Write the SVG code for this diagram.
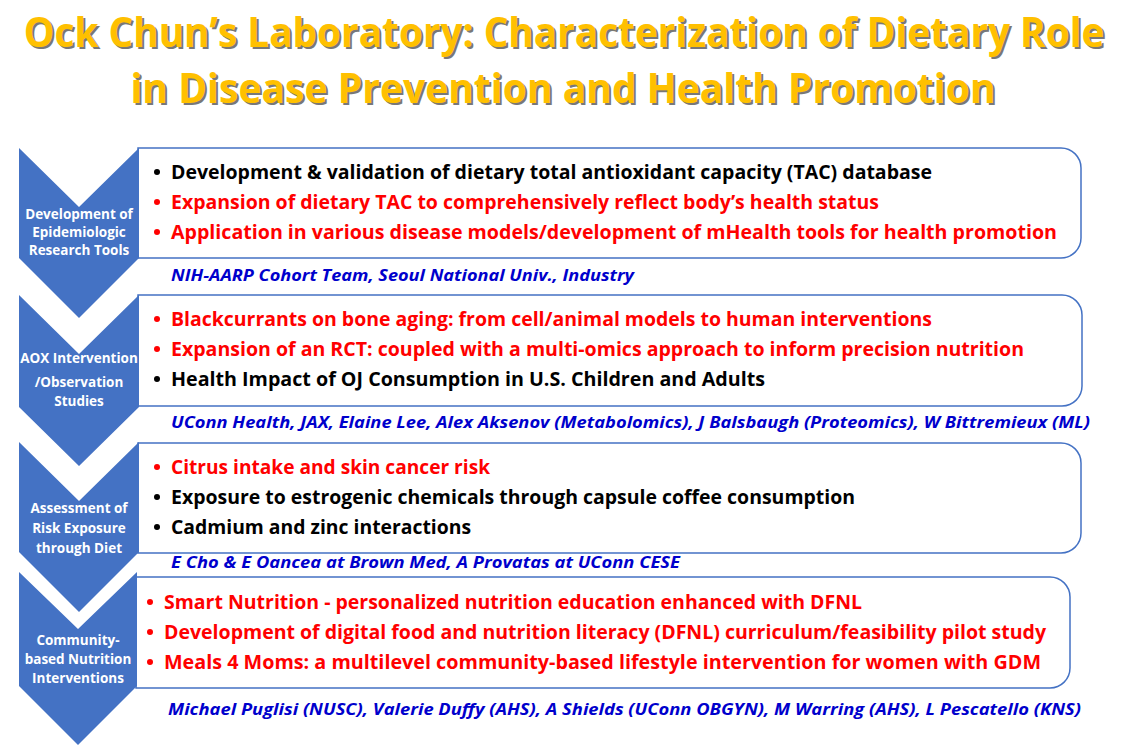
<svg xmlns="http://www.w3.org/2000/svg" width="1129" height="752" viewBox="0 0 1129 752">
<style>
.title{font-family:"Open Sans","Liberation Sans",sans-serif;font-weight:700;font-size:41px;fill:#FFC000;text-anchor:middle}
.shadow{font-family:"Open Sans","Liberation Sans",sans-serif;font-weight:700;font-size:41px;fill:#404040;opacity:0.7;text-anchor:middle}
.chev{fill:#4472C4}
.box{fill:#FFFFFF;stroke:#4472C4;stroke-width:1.5}
.lab{font-family:"Open Sans","Liberation Sans",sans-serif;font-weight:700;font-size:13.5px;fill:#FFFFFF;text-anchor:middle}
.t{font-family:"Open Sans","Liberation Sans",sans-serif;font-weight:700;font-size:19px}
.k{fill:#000000}
.r{fill:#FF0000}
.c{font-family:"Open Sans","Liberation Sans",sans-serif;font-weight:700;font-style:italic;font-size:16px;fill:#0000CC}
</style>
<g id="title">
<g transform="translate(566 49) scale(0.82 1)"><text class="shadow" x="0" y="0" textLength="1318" lengthAdjust="spacingAndGlyphs">Ock Chun’s Laboratory: Characterization of Dietary Role</text></g>
<g transform="translate(564 47) scale(0.82 1)"><text class="title" x="0" y="0" textLength="1318" lengthAdjust="spacingAndGlyphs">Ock Chun’s Laboratory: Characterization of Dietary Role</text></g>
<g transform="translate(565 105) scale(0.82 1)"><text class="shadow" x="0" y="0" textLength="1055" lengthAdjust="spacingAndGlyphs">in Disease Prevention and Health Promotion</text></g>
<g transform="translate(563 103) scale(0.82 1)"><text class="title" x="0" y="0" textLength="1055" lengthAdjust="spacingAndGlyphs">in Disease Prevention and Health Promotion</text></g>
</g>
<g id="connectors"></g>
<g id="box1">
<path class="box" d="M138,148 H1061 A20,20 0 0 1 1081,168 V238 A20,20 0 0 1 1061,258 H138 Z"/>
<circle class="k" cx="157" cy="172" r="3"/>
<text class="t k" x="171" y="179" textLength="761" lengthAdjust="spacingAndGlyphs">Development &amp; validation of dietary total antioxidant capacity (TAC) database</text>
<circle class="r" cx="157" cy="202" r="3"/>
<text class="t r" x="171" y="209" textLength="708" lengthAdjust="spacingAndGlyphs">Expansion of dietary TAC to comprehensively reflect body’s health status</text>
<circle class="r" cx="157" cy="232" r="3"/>
<text class="t r" x="171" y="239" textLength="886" lengthAdjust="spacingAndGlyphs">Application in various disease models/development of mHealth tools for health promotion</text>
<text class="c" x="171" y="281" textLength="463" lengthAdjust="spacingAndGlyphs">NIH-AARP Cohort Team, Seoul National Univ., Industry</text>
</g>
<g id="box2">
<path class="box" d="M138,295 H1062 A20,20 0 0 1 1082,315 V386 A20,20 0 0 1 1062,406 H138 Z"/>
<circle class="r" cx="157" cy="319" r="3"/>
<text class="t r" x="171" y="326" textLength="761" lengthAdjust="spacingAndGlyphs">Blackcurrants on bone aging: from cell/animal models to human interventions</text>
<circle class="r" cx="157" cy="349" r="3"/>
<text class="t r" x="171" y="356" textLength="853" lengthAdjust="spacingAndGlyphs">Expansion of an RCT: coupled with a multi-omics approach to inform precision nutrition</text>
<circle class="k" cx="157" cy="379" r="3"/>
<text class="t k" x="171" y="386" textLength="594" lengthAdjust="spacingAndGlyphs">Health Impact of OJ Consumption in U.S. Children and Adults</text>
<text class="c" x="171" y="428" textLength="919" lengthAdjust="spacingAndGlyphs">UConn Health, JAX, Elaine Lee, Alex Aksenov (Metabolomics), J Balsbaugh (Proteomics), W Bittremieux (ML)</text>
</g>
<g id="box3">
<path class="box" d="M138,443 H1061 A20,20 0 0 1 1081,463 V533 A20,20 0 0 1 1061,553 H138 Z"/>
<circle class="r" cx="157" cy="467" r="3"/>
<text class="t r" x="171" y="474" textLength="319" lengthAdjust="spacingAndGlyphs">Citrus intake and skin cancer risk</text>
<circle class="k" cx="157" cy="497" r="3"/>
<text class="t k" x="171" y="504" textLength="684" lengthAdjust="spacingAndGlyphs">Exposure to estrogenic chemicals through capsule coffee consumption</text>
<circle class="k" cx="157" cy="527" r="3"/>
<text class="t k" x="171" y="534" textLength="300" lengthAdjust="spacingAndGlyphs">Cadmium and zinc interactions</text>
<text class="c" x="171" y="568" textLength="509" lengthAdjust="spacingAndGlyphs">E Cho &amp; E Oancea at Brown Med, A Provatas at UConn CESE</text>
</g>
<g id="box4">
<path class="box" d="M136,577 H1050 A20,20 0 0 1 1070,597 V668 A20,20 0 0 1 1050,688 H136 Z"/>
<circle class="r" cx="150" cy="602" r="3"/>
<text class="t r" x="164" y="609" textLength="698" lengthAdjust="spacingAndGlyphs">Smart Nutrition - personalized nutrition education enhanced with DFNL</text>
<circle class="r" cx="150" cy="632" r="3"/>
<text class="t r" x="164" y="639" textLength="882" lengthAdjust="spacingAndGlyphs">Development of digital food and nutrition literacy (DFNL) curriculum/feasibility pilot study</text>
<circle class="r" cx="150" cy="662" r="3"/>
<text class="t r" x="164" y="669" textLength="877" lengthAdjust="spacingAndGlyphs">Meals 4 Moms: a multilevel community-based lifestyle intervention for women with GDM</text>
<text class="c" x="168" y="715" textLength="913" lengthAdjust="spacingAndGlyphs">Michael Puglisi (NUSC), Valerie Duffy (AHS), A Shields (UConn OBGYN), M Warring (AHS), L Pescatello (KNS)</text>
</g>
<g id="chevron1">
<path class="chev" d="M19,148 L79,207 L139,148 L139,258 L79,318 L19,258 Z"/>
<text class="lab" x="79" y="219">Development of</text>
<text class="lab" x="79" y="237">Epidemiologic</text>
<text class="lab" x="79" y="255">Research Tools</text>
</g>
<g id="chevron2">
<path class="chev" d="M19,295 L79,354 L139,295 L139,407 L79,466 L19,407 Z"/>
<text class="lab" x="79" y="363">AOX Intervention</text>
<text class="lab" x="79" y="387">/Observation</text>
<text class="lab" x="79" y="406">Studies</text>
</g>
<g id="chevron3">
<path class="chev" d="M19,442 L79,501 L139,442 L139,552 L79,612 L19,552 Z"/>
<text class="lab" x="79" y="513">Assessment of</text>
<text class="lab" x="79" y="533">Risk Exposure</text>
<text class="lab" x="79" y="553">through Diet</text>
</g>
<g id="chevron4">
<path class="chev" d="M19,572 L78,629 L137,572 L137,686 L78,745 L19,686 Z"/>
<text class="lab" x="78" y="645">Community-</text>
<text class="lab" x="78" y="664">based Nutrition</text>
<text class="lab" x="78" y="683">Interventions</text>
</g>
</svg>
